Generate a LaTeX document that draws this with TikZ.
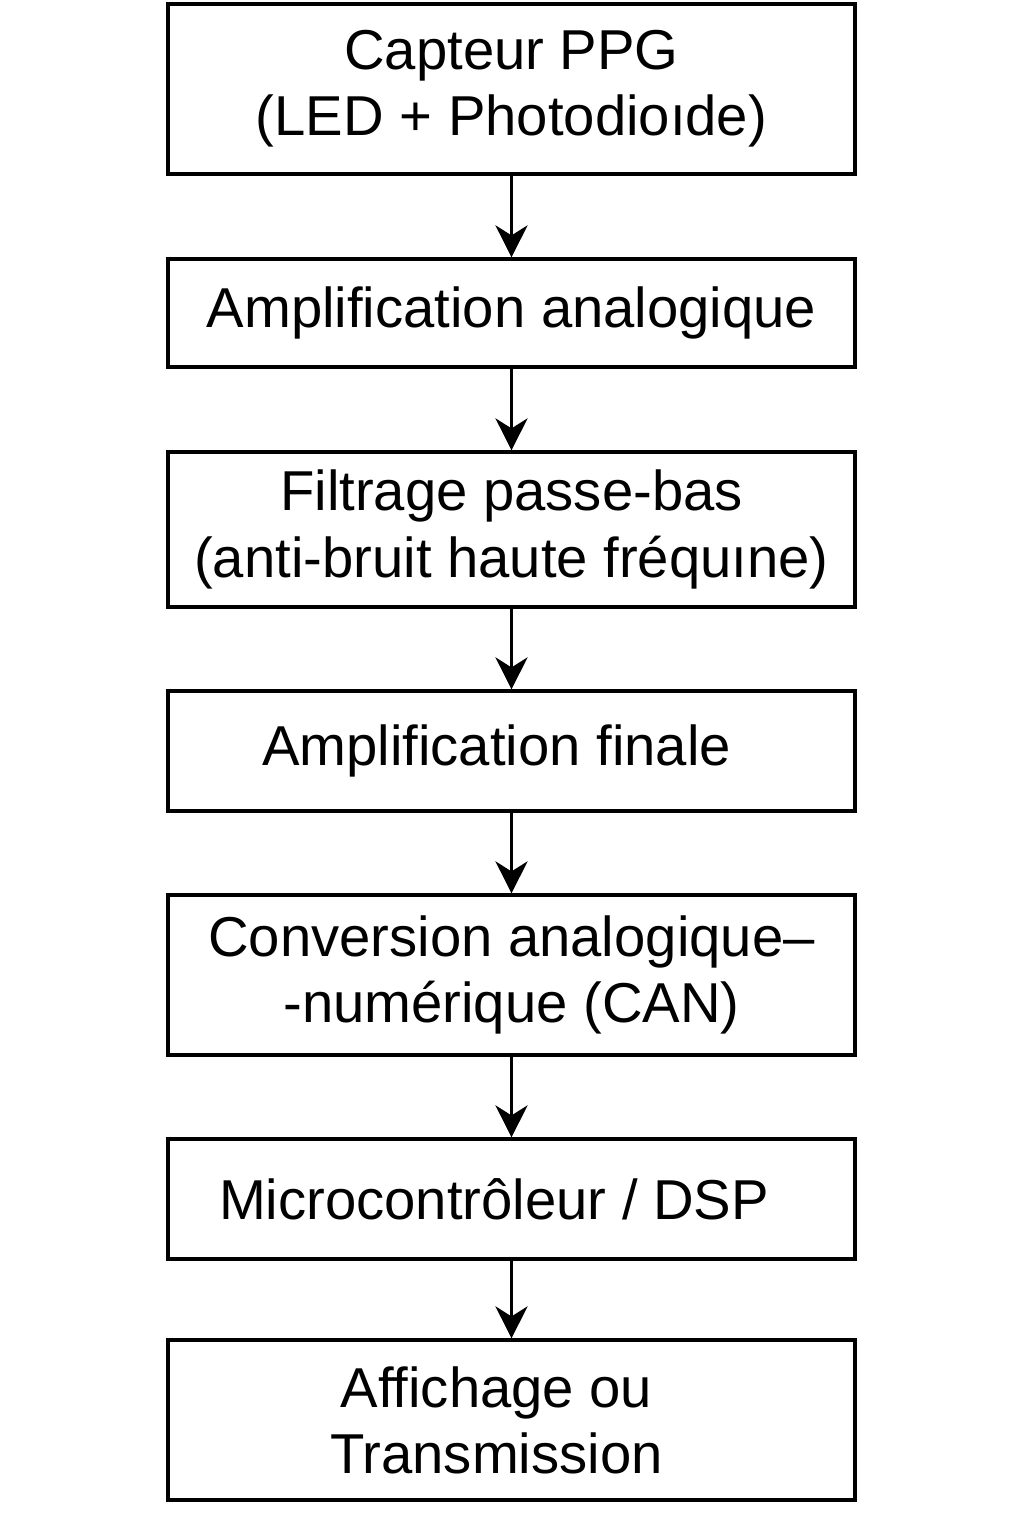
\documentclass[tikz,border=0pt]{standalone}
\usepackage{fontspec}
\setmainfont{Liberation Sans}
\usetikzlibrary{arrows.meta}

\tikzset{bloc/.style={draw,line width=0.9pt,minimum width=6.87cm,align=center,font=\fontsize{16}{18.8}\selectfont},
  fleche/.style={line width=0.9pt,-{Stealth[length=3.2mm,width=3.2mm,inset=1mm]}}}

\begin{document}
\begin{tikzpicture}
 \useasboundingbox (0,0) rectangle (10.24,15.36);
 \node[bloc,minimum height=1.70cm] (capteur) at (5.115,14.47) {Capteur PPG\\(LED + Photodioıde)};
 \node[bloc,minimum height=1.08cm] (ampli) at (5.115,12.23) {Amplification analogique};
 \node[bloc,minimum height=1.55cm] (filtre) at (5.115,10.065) {Filtrage passe-bas\\(anti-bruit haute fréquıne)};
 \node[bloc,minimum height=1.20cm] (amplifin) at (5.115,7.85) {Amplification finale\hspace*{0.3cm}};
 \node[bloc,minimum height=1.60cm] (can) at (5.115,5.61) {Conversion analogique–\\-numérique (CAN)};
 \node[bloc,minimum height=1.20cm] (mcu) at (5.115,3.37) {Microcontrôleur / DSP\hspace*{0.35cm}};
 \node[bloc,minimum height=1.60cm] (sortie) at (5.115,1.16) {Affichage ou\hspace*{0.3cm}\\Transmission\hspace*{0.3cm}};
 \draw[fleche] (capteur) -- (ampli);
 \draw[fleche] (ampli) -- (filtre);
 \draw[fleche] (filtre) -- (amplifin);
 \draw[fleche] (amplifin) -- (can);
 \draw[fleche] (can) -- (mcu);
 \draw[fleche] (mcu) -- (sortie);
\end{tikzpicture}
\end{document}
